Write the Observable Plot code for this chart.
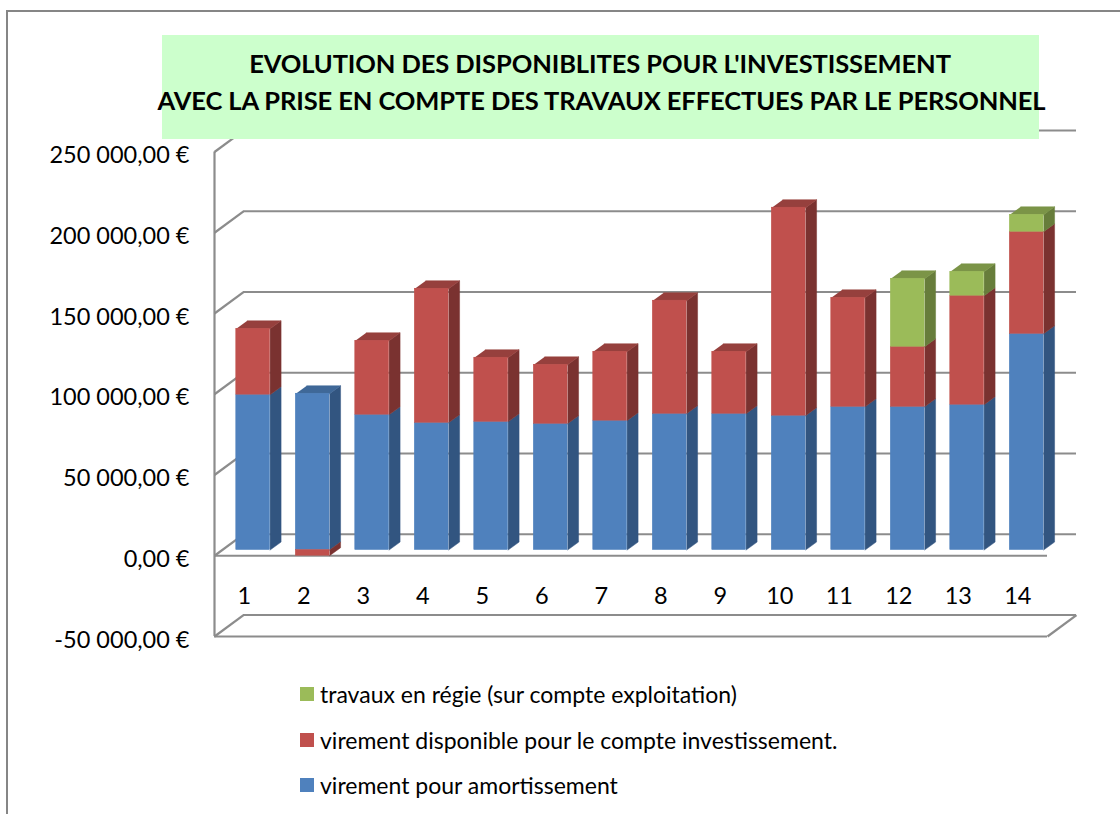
<!DOCTYPE html>
<html lang="fr">
<head>
<meta charset="utf-8">
<title>Evolution des disponiblites</title>
<script src="https://cdn.jsdelivr.net/npm/d3@7"></script>
<script src="https://cdn.jsdelivr.net/npm/@observablehq/plot@0.6"></script>
<style>
  html, body { margin: 0; padding: 0; background: #fff; }
  #page { position: relative; width: 1120px; height: 814px; overflow: hidden; font-family: Lato, "Open Sans", sans-serif; color: #000; }
  #page svg { display: block; position: absolute; left: 0; top: 0; }
  #border { position: absolute; left: 6px; top: 10px; right: -10px; bottom: -10px; border: 2px solid #868686; }
  #titleBox { position: absolute; left: 162px; top: 35px; width: 877px; height: 104px; background: #ccffcc; }
  .tl { position: absolute; left: 601.5px; transform: translateX(-50%); white-space: nowrap; font-weight: 700; font-size: 25.5px; line-height: 30px; letter-spacing: -0.1px; }
  .lg { position: absolute; left: 300px; display: flex; align-items: center; height: 30px; font-size: 23px; white-space: nowrap; }
  .lg i { display: block; width: 14px; height: 14px; margin-right: 6px; }
</style>
</head>
<body>
<div id="page"></div>
<script>
const categories = [1, 2, 3, 4, 5, 6, 7, 8, 9, 10, 11, 12, 13, 14];
const amortissement = [96200, 96800, 83800, 78800, 79400, 78200, 80100, 84400, 84400, 83200, 88700, 88700, 90000, 133900];
const disponible = [40800, -3500, 45800, 83000, 39700, 36500, 42700, 70000, 38400, 128800, 67500, 37200, 67500, 63200];
const regie = [0, 0, 0, 0, 0, 0, 0, 0, 0, 0, 0, 42100, 14800, 10500];
const yTicks = [-50000, 0, 50000, 100000, 150000, 200000, 250000];
const titleLines = ["EVOLUTION DES DISPONIBLITES POUR L'INVESTISSEMENT", "AVEC LA PRISE EN COMPTE DES TRAVAUX EFFECTUES PAR LE PERSONNEL"];
const legendLabels = ["travaux en régie (sur compte exploitation)", "virement disponible pour le compte investissement.", "virement pour amortissement"];

// 3D projection, in data units
const wallDX = 0.4874, wallDY = 13300;
const barShiftX = 0.15, barShiftY = 3530;
const barDepthX = 0.185, barDepthY = 4950;
const barHalf = 0.284;

const shades = {
  blue:  {front: "#4f81bd", side: "#325580", top: "#3f6898"},
  red:   {front: "#c0504d", side: "#7a3230", top: "#96403d"},
  green: {front: "#9bbb59", side: "#677d3b", top: "#7b9447"}
};
const gridColor = "#8c8c8c";

const fronts = [], polys = [];
let pid = 0;
function poly(points, fill) {
  const id = pid++;
  for (const [x, y] of points) polys.push({id, x, y, fill});
}
categories.forEach((c, i) => {
  const segs = [["blue", amortissement[i]], ["red", disponible[i]], ["green", regie[i]]];
  let pos = 0, neg = 0;
  const built = [];
  for (const [k, v] of segs) {
    if (!v) continue;
    let a, b;
    if (v >= 0) { a = pos; b = pos = pos + v; }
    else { b = neg; a = neg = neg + v; }
    built.push({k, a, b});
  }
  const xl = c - barHalf + barShiftX, xr = c + barHalf + barShiftX;
  built.forEach(({k, a, b}) => {
    const y0 = a + barShiftY, y1 = b + barShiftY;
    fronts.push({x1: xl, x2: xr, y1: y0, y2: y1, fill: shades[k].front});
    poly([[xr, y0], [xr + barDepthX, y0 + barDepthY], [xr + barDepthX, y1 + barDepthY], [xr, y1]], shades[k].side);
  });
  const topY = pos + barShiftY;
  const topK = built.filter(s => s.b === pos).pop().k;
  poly([[xl, topY], [xr, topY], [xr + barDepthX, topY + barDepthY], [xl + barDepthX, topY + barDepthY]], shades[topK].top);
});

const locale = d3.formatLocale({decimal: ",", thousands: " ", grouping: [3], currency: ["", " €"], minus: "-"});
const money = v => locale.format(",.2f")(v) + " €";

const xMin = categories[0] - 0.5, xMax = categories[categories.length - 1] + 0.5;
const yMin = yTicks[0], yMax = yTicks[yTicks.length - 1];

const chart = Plot.plot({
  width: 1120, height: 814,
  marginLeft: 214, marginRight: 73, marginTop: 151.5, marginBottom: 178,
  style: {background: "transparent", fontFamily: "Lato, 'Open Sans', sans-serif", color: "#000"},
  x: {type: "linear", domain: [xMin, xMax]},
  y: {type: "linear", domain: [yMin, yMax]},
  color: {type: "identity"},
  marks: [
    // back wall gridlines
    Plot.ruleY(yTicks, {y: d => d + wallDY, x1: xMin + wallDX, x2: xMax + wallDX, stroke: gridColor, strokeWidth: 2.2}),
    // left wall diagonals
    Plot.link(yTicks, {x1: xMin, y1: d => d, x2: xMin + wallDX, y2: d => d + wallDY, stroke: gridColor, strokeWidth: 2.2}),
    // right floor diagonal
    Plot.link([yMin], {x1: xMax, y1: d => d, x2: xMax + wallDX, y2: d => d + wallDY, stroke: gridColor, strokeWidth: 2.2}),
    // front rules
    Plot.ruleX([xMin], {y1: yMin, y2: yMax, stroke: gridColor, strokeWidth: 2.2}),
    Plot.ruleY([yMin, 0], {x1: xMin, x2: xMax, stroke: gridColor, strokeWidth: 2.2}),
    // bars
    Plot.line(polys, {x: "x", y: "y", z: "id", fill: "fill", stroke: "fill", strokeWidth: 0.5}),
    Plot.rect(fronts, {x1: "x1", x2: "x2", y1: "y1", y2: "y2", fill: "fill", stroke: "fill", strokeWidth: 0.5}),
    // axes
    Plot.axisY({ticks: yTicks, tickFormat: money, tickSize: 0, tickPadding: 25, fontSize: 23.5, dy: 3.5, label: null}),
    Plot.axisX({ticks: categories, tickFormat: d => String(d), tickSize: 0, tickPadding: 0, fontSize: 23.5, dy: -49, label: null})
  ]
});

const page = document.getElementById("page");
const add = (cls, id) => { const e = document.createElement("div"); if (cls) e.className = cls; if (id) e.id = id; page.appendChild(e); return e; };
page.appendChild(chart);
add("", "border");
add("", "titleBox");
titleLines.forEach((t, i) => {
  const e = add("tl"); e.textContent = t; e.style.top = [48, 85][i] + "px";
  if (i === 0) e.style.left = "600px";
});
const swatch = [shades.green.front, shades.red.front, shades.blue.front];
legendLabels.forEach((t, i) => {
  const e = add("lg"); e.style.top = [679, 725, 770][i] + "px";
  const s = document.createElement("i"); s.style.background = swatch[i]; e.appendChild(s);
  e.appendChild(document.createTextNode(t));
});
</script>
</body>
</html>
